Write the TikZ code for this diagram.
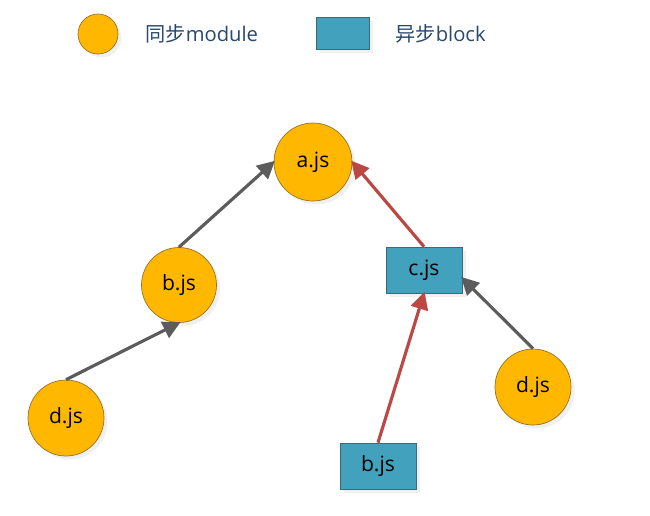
\documentclass[tikz,border=0pt]{standalone}
\usepackage{fontspec}
\setmainfont{Open Sans}
\newfontfamily\cjk{Noto Sans CJK SC}
\usepackage{tikz}
\usetikzlibrary{arrows.meta, shadows}
\definecolor{modfill}{RGB}{255,183,0}
\definecolor{moddraw}{RGB}{150,115,40}
\definecolor{blkfill}{RGB}{66,162,190}
\definecolor{blkdraw}{RGB}{60,105,120}
\definecolor{syncline}{RGB}{92,92,92}
\definecolor{asyncline}{RGB}{188,72,70}
\definecolor{legendtext}{RGB}{40,72,108}

\begin{document}
\begin{tikzpicture}[x=0.02cm,y=-0.02cm]
      \tikzset{sync module/.style={circle,
          fill=modfill,
          draw=moddraw,
          line width=0.4pt,
          minimum size=#1,
          inner sep=0pt,
          font=\fontsize{12}{14}\selectfont,
          drop shadow={shadow xshift=2pt,shadow yshift=-2pt,opacity=0.12}},
        async block/.style={rectangle,
          fill=blkfill,
          draw=blkdraw,
          line width=0.4pt,
          minimum width=#1,
          minimum height=0.6*#1,
          inner sep=0pt,
          font=\fontsize{12}{14}\selectfont,
          drop shadow={shadow xshift=2pt,shadow yshift=-2pt,opacity=0.12}},
        dep/.style={line width=1.8pt,-{Triangle[length=10pt,width=10pt]},shorten >=-1pt},
        legend text/.style={anchor=west,inner sep=0pt,text=legendtext,font=\fontsize{11.5}{13}\selectfont}
      }
      \useasboundingbox (0,0) rectangle (650,515);

      % legend
      \node [sync module=0.8cm] (lmod) at (98,34) {};
      \node [legend text] (lmodtext) at (145,34) {{\cjk 同步}module};
      \node [async block=1.06cm,minimum height=0.64cm] (lblk) at (343,33) {};
      \node [legend text] (lblktext) at (395,34) {{\cjk 异步}block};

      % modules
      \node [sync module=1.56cm] (a) at (313,162) {a.js};
      \node [sync module=1.5cm] (b) at (179,285) {b.js};
      \node [sync module=1.52cm] (dl) at (66,418) {d.js};
      \node [sync module=1.52cm] (dr) at (533,387) {d.js};

      % blocks
      \node [async block=1.52cm,minimum height=0.92cm] (c) at (424,270) {c.js};
      \node [async block=1.52cm,minimum height=0.92cm] (bb) at (378,466) {b.js};

      \draw [dep,draw=syncline] (b.north)--(a.west);
      \draw [dep,draw=syncline] (dl.north)--(b.south);
      \draw [dep,draw=syncline] (dr.north)--(c.-12);
      \draw [dep,draw=asyncline] (c.north)--(a.east);
      \draw [dep,draw=asyncline] (bb.north)--(c.south);
\end{tikzpicture}
\end{document}
